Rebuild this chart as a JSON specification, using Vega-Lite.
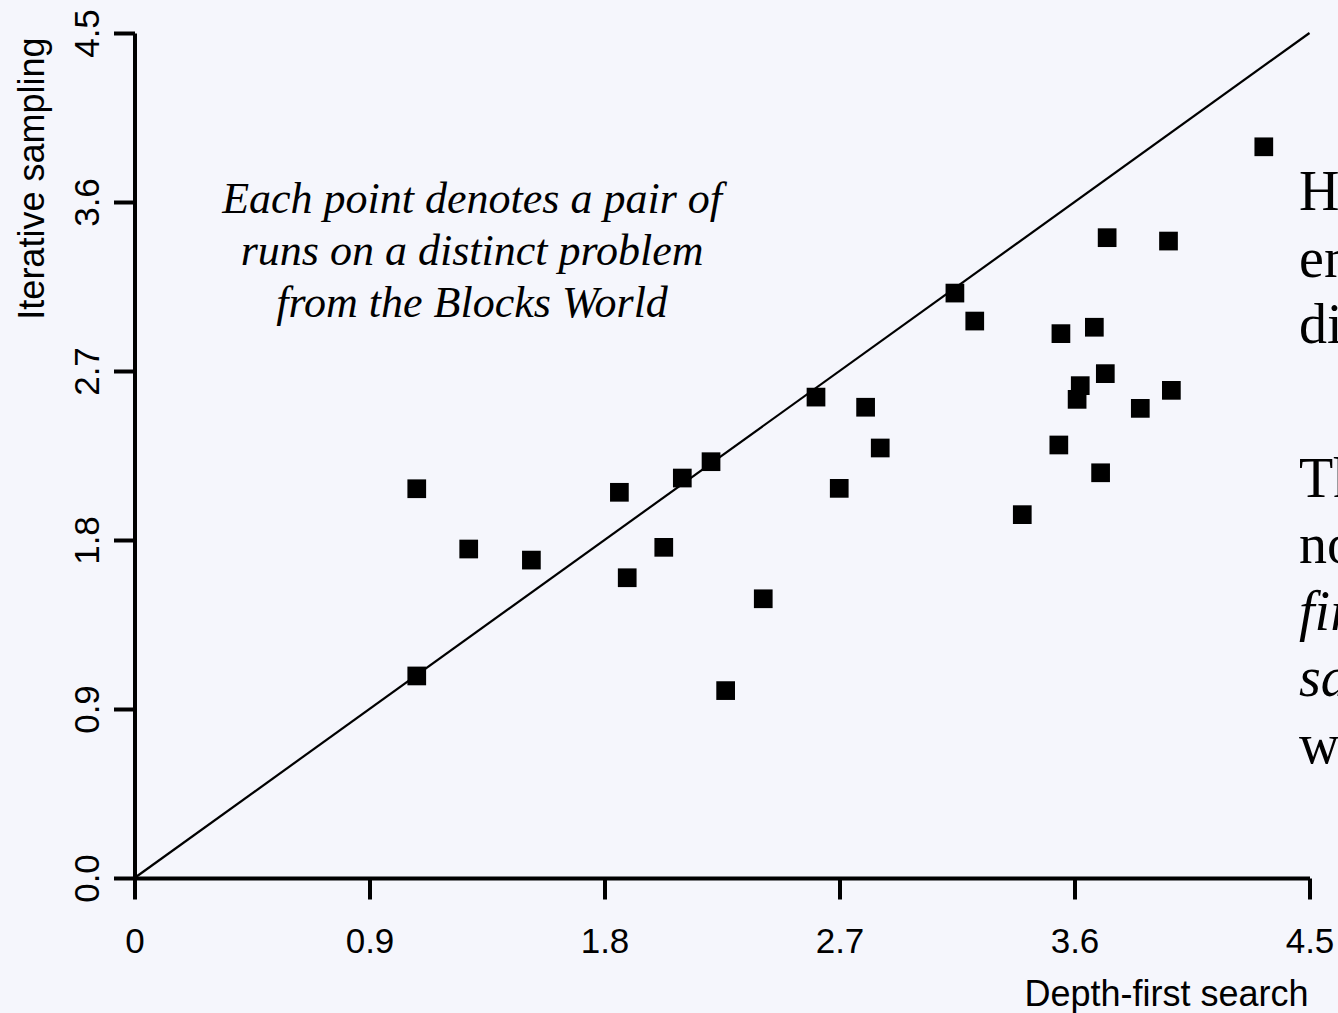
{
  "$schema": "https://vega.github.io/schema/vega-lite/v6.json",
  "autosize": "none",
  "width": 1175,
  "height": 845,
  "padding": {"left": 134.5, "top": 33, "right": 28.5, "bottom": 135},
  "background": "#f5f6fc",
  "config": {
    "view": {"stroke": null},
    "axis": {
      "grid": false,
      "domainColor": "black",
      "domainWidth": 4,
      "tickColor": "black",
      "tickWidth": 4,
      "tickSize": 21,
      "labelFont": "Liberation Sans",
      "labelFontSize": 35,
      "labelColor": "black",
      "titleFont": "Liberation Sans",
      "titleFontSize": 36,
      "titleFontWeight": "normal",
      "titleColor": "black",
      "labelFlush": false,
      "labelOverlap": false
    }
  },
  "datasets": {
    "runs": [
      {"dfs": 1.081, "is": 2.073},
      {"dfs": 1.081, "is": 1.076},
      {"dfs": 1.280, "is": 1.752},
      {"dfs": 1.520, "is": 1.693},
      {"dfs": 1.857, "is": 2.054},
      {"dfs": 1.887, "is": 1.599},
      {"dfs": 2.027, "is": 1.761},
      {"dfs": 2.098, "is": 2.130},
      {"dfs": 2.208, "is": 2.217},
      {"dfs": 2.264, "is": 0.998},
      {"dfs": 2.408, "is": 1.487},
      {"dfs": 2.610, "is": 2.561},
      {"dfs": 2.699, "is": 2.075},
      {"dfs": 2.800, "is": 2.507},
      {"dfs": 2.856, "is": 2.290},
      {"dfs": 3.142, "is": 3.115},
      {"dfs": 3.218, "is": 2.966},
      {"dfs": 3.400, "is": 1.935},
      {"dfs": 3.540, "is": 2.306},
      {"dfs": 3.548, "is": 2.899},
      {"dfs": 3.610, "is": 2.549},
      {"dfs": 3.622, "is": 2.622},
      {"dfs": 3.676, "is": 2.933},
      {"dfs": 3.700, "is": 2.158},
      {"dfs": 3.718, "is": 2.686},
      {"dfs": 3.725, "is": 3.410},
      {"dfs": 3.852, "is": 2.501},
      {"dfs": 3.960, "is": 3.392},
      {"dfs": 3.971, "is": 2.597},
      {"dfs": 4.325, "is": 3.894}
    ],
    "diag": [
      {"dfs": 0, "is": 0},
      {"dfs": 4.5, "is": 4.5}
    ],
    "one": [{}]
  },
  "layer": [
    {
      "data": {"name": "diag"},
      "mark": {"type": "line", "color": "black", "strokeWidth": 2.2},
      "encoding": {
        "x": {"field": "dfs", "type": "quantitative", "scale": {"domain": [0, 4.5], "nice": false, "zero": false},
          "axis": {"values": [0, 0.9, 1.8, 2.7, 3.6, 4.5], "labelExpr": "datum.value == 0 ? '0' : format(datum.value, '.1f')", "labelPadding": 25, "title": "Depth-first search", "titleX": 1173.5, "titleY": 127, "titleAlign": "right", "titleBaseline": "alphabetic", "titleAnchor": "end"}},
        "y": {"field": "is", "type": "quantitative", "scale": {"domain": [0, 4.5], "nice": false, "zero": false},
          "axis": {"values": [0, 0.9, 1.8, 2.7, 3.6, 4.5], "format": ".1f", "labelAngle": 270, "labelAlign": "center", "labelBaseline": "bottom", "labelPadding": 8, "title": "Iterative sampling", "titleAngle": 270, "titleX": -91.5, "titleY": 4, "titleAlign": "right", "titleBaseline": "alphabetic", "titleAnchor": "end"}}
      }
    },
    {
      "data": {"name": "runs"},
      "mark": {"type": "point", "shape": "square", "filled": true, "color": "black", "opacity": 1, "size": 350, "strokeWidth": 0},
      "encoding": {
        "x": {"field": "dfs", "type": "quantitative", "scale": {"domain": [0, 4.5], "nice": false, "zero": false},
          "axis": {"values": [0, 0.9, 1.8, 2.7, 3.6, 4.5], "labelExpr": "datum.value == 0 ? '0' : format(datum.value, '.1f')", "labelPadding": 25, "title": "Depth-first search", "titleX": 1173.5, "titleY": 127, "titleAlign": "right", "titleBaseline": "alphabetic", "titleAnchor": "end"}},
        "y": {"field": "is", "type": "quantitative", "scale": {"domain": [0, 4.5], "nice": false, "zero": false},
          "axis": {"values": [0, 0.9, 1.8, 2.7, 3.6, 4.5], "format": ".1f", "labelAngle": 270, "labelAlign": "center", "labelBaseline": "bottom", "labelPadding": 8, "title": "Iterative sampling", "titleAngle": 270, "titleX": -91.5, "titleY": 4, "titleAlign": "right", "titleBaseline": "alphabetic", "titleAnchor": "end"}}
      }
    },
    {
      "data": {"name": "one"},
      "mark": {"type": "text", "text": ["Each point denotes a pair of", "runs on a distinct problem", "from the Blocks World"], "font": "Liberation Serif", "fontStyle": "italic", "fontSize": 44, "lineHeight": 52, "align": "center", "baseline": "alphabetic", "color": "black"},
      "encoding": {
        "x": {"datum": 1.293, "type": "quantitative", "scale": {"domain": [0, 4.5], "nice": false, "zero": false},
          "axis": {"values": [0, 0.9, 1.8, 2.7, 3.6, 4.5], "labelExpr": "datum.value == 0 ? '0' : format(datum.value, '.1f')", "labelPadding": 25, "title": "Depth-first search", "titleX": 1173.5, "titleY": 127, "titleAlign": "right", "titleBaseline": "alphabetic", "titleAnchor": "end"}},
        "y": {"datum": 3.541, "type": "quantitative", "scale": {"domain": [0, 4.5], "nice": false, "zero": false},
          "axis": {"values": [0, 0.9, 1.8, 2.7, 3.6, 4.5], "format": ".1f", "labelAngle": 270, "labelAlign": "center", "labelBaseline": "bottom", "labelPadding": 8, "title": "Iterative sampling", "titleAngle": 270, "titleX": -91.5, "titleY": 4, "titleAlign": "right", "titleBaseline": "alphabetic", "titleAnchor": "end"}}
      }
    },
    {
      "data": {"name": "one"},
      "mark": {"type": "text", "text": ["Here each point lies", "entirely below the", "diagonal line."], "font": "Liberation Serif", "fontSize": 56, "lineHeight": 66.5, "align": "left", "baseline": "alphabetic", "color": "black"},
      "encoding": {
        "x": {"datum": 4.46, "type": "quantitative", "scale": {"domain": [0, 4.5], "nice": false, "zero": false},
          "axis": {"values": [0, 0.9, 1.8, 2.7, 3.6, 4.5], "labelExpr": "datum.value == 0 ? '0' : format(datum.value, '.1f')", "labelPadding": 25, "title": "Depth-first search", "titleX": 1173.5, "titleY": 127, "titleAlign": "right", "titleBaseline": "alphabetic", "titleAnchor": "end"}},
        "y": {"datum": 3.557, "type": "quantitative", "scale": {"domain": [0, 4.5], "nice": false, "zero": false},
          "axis": {"values": [0, 0.9, 1.8, 2.7, 3.6, 4.5], "format": ".1f", "labelAngle": 270, "labelAlign": "center", "labelBaseline": "bottom", "labelPadding": 8, "title": "Iterative sampling", "titleAngle": 270, "titleX": -91.5, "titleY": 4, "titleAlign": "right", "titleBaseline": "alphabetic", "titleAnchor": "end"}}
      }
    },
    {
      "data": {"name": "one"},
      "mark": {"type": "text", "text": ["The line marks", "no difference: depth-"], "font": "Liberation Serif", "fontSize": 56, "lineHeight": 66.5, "align": "left", "baseline": "alphabetic", "color": "black"},
      "encoding": {
        "x": {"datum": 4.46, "type": "quantitative", "scale": {"domain": [0, 4.5], "nice": false, "zero": false},
          "axis": {"values": [0, 0.9, 1.8, 2.7, 3.6, 4.5], "labelExpr": "datum.value == 0 ? '0' : format(datum.value, '.1f')", "labelPadding": 25, "title": "Depth-first search", "titleX": 1173.5, "titleY": 127, "titleAlign": "right", "titleBaseline": "alphabetic", "titleAnchor": "end"}},
        "y": {"datum": 2.029, "type": "quantitative", "scale": {"domain": [0, 4.5], "nice": false, "zero": false},
          "axis": {"values": [0, 0.9, 1.8, 2.7, 3.6, 4.5], "format": ".1f", "labelAngle": 270, "labelAlign": "center", "labelBaseline": "bottom", "labelPadding": 8, "title": "Iterative sampling", "titleAngle": 270, "titleX": -91.5, "titleY": 4, "titleAlign": "right", "titleBaseline": "alphabetic", "titleAnchor": "end"}}
      }
    },
    {
      "data": {"name": "one"},
      "mark": {"type": "text", "text": ["first search and iterative", "sampling"], "font": "Liberation Serif", "fontStyle": "italic", "fontSize": 56, "lineHeight": 66.5, "align": "left", "baseline": "alphabetic", "color": "black"},
      "encoding": {
        "x": {"datum": 4.46, "type": "quantitative", "scale": {"domain": [0, 4.5], "nice": false, "zero": false},
          "axis": {"values": [0, 0.9, 1.8, 2.7, 3.6, 4.5], "labelExpr": "datum.value == 0 ? '0' : format(datum.value, '.1f')", "labelPadding": 25, "title": "Depth-first search", "titleX": 1173.5, "titleY": 127, "titleAlign": "right", "titleBaseline": "alphabetic", "titleAnchor": "end"}},
        "y": {"datum": 1.321, "type": "quantitative", "scale": {"domain": [0, 4.5], "nice": false, "zero": false},
          "axis": {"values": [0, 0.9, 1.8, 2.7, 3.6, 4.5], "format": ".1f", "labelAngle": 270, "labelAlign": "center", "labelBaseline": "bottom", "labelPadding": 8, "title": "Iterative sampling", "titleAngle": 270, "titleX": -91.5, "titleY": 4, "titleAlign": "right", "titleBaseline": "alphabetic", "titleAnchor": "end"}}
      }
    },
    {
      "data": {"name": "one"},
      "mark": {"type": "text", "text": ["would take equal time."], "font": "Liberation Serif", "fontSize": 56, "lineHeight": 66.5, "align": "left", "baseline": "alphabetic", "color": "black"},
      "encoding": {
        "x": {"datum": 4.46, "type": "quantitative", "scale": {"domain": [0, 4.5], "nice": false, "zero": false},
          "axis": {"values": [0, 0.9, 1.8, 2.7, 3.6, 4.5], "labelExpr": "datum.value == 0 ? '0' : format(datum.value, '.1f')", "labelPadding": 25, "title": "Depth-first search", "titleX": 1173.5, "titleY": 127, "titleAlign": "right", "titleBaseline": "alphabetic", "titleAnchor": "end"}},
        "y": {"datum": 0.612, "type": "quantitative", "scale": {"domain": [0, 4.5], "nice": false, "zero": false},
          "axis": {"values": [0, 0.9, 1.8, 2.7, 3.6, 4.5], "format": ".1f", "labelAngle": 270, "labelAlign": "center", "labelBaseline": "bottom", "labelPadding": 8, "title": "Iterative sampling", "titleAngle": 270, "titleX": -91.5, "titleY": 4, "titleAlign": "right", "titleBaseline": "alphabetic", "titleAnchor": "end"}}
      }
    }
  ]
}
